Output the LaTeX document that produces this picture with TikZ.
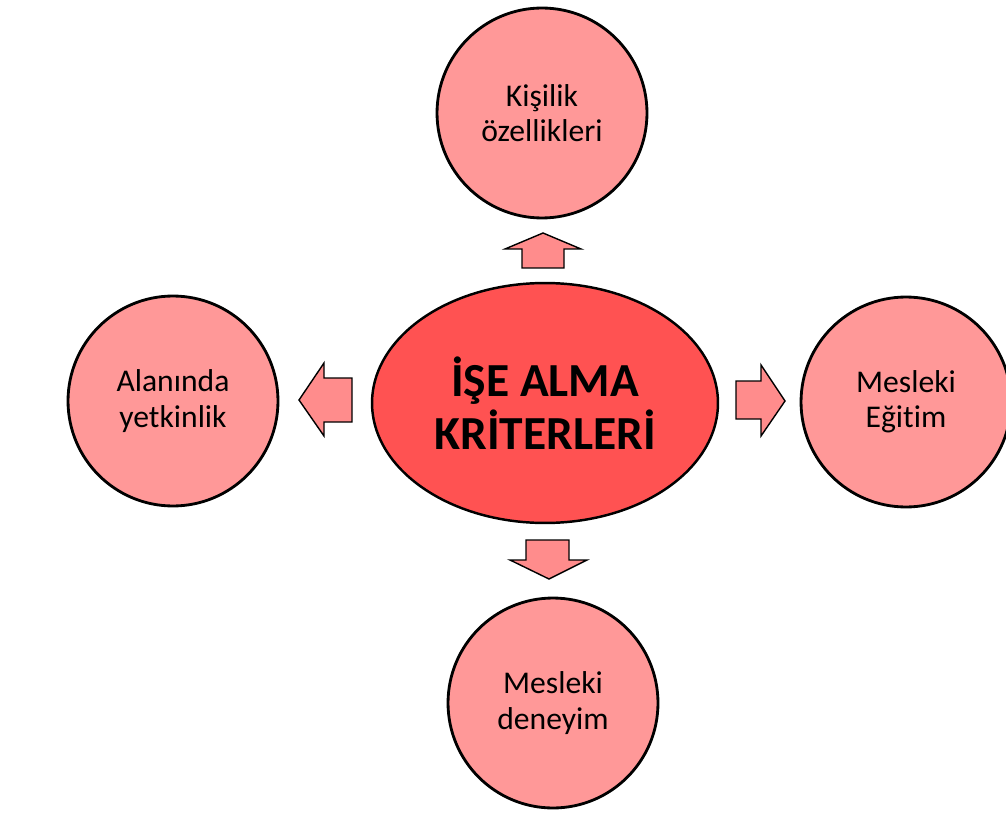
\documentclass[tikz,border=0pt]{standalone}
\usepackage{fontspec}
\setmainfont[Ligatures=NoCommon]{Carlito}
\usetikzlibrary{shapes.geometric}
\definecolor{daire}{RGB}{255,152,152}
\definecolor{merkez}{RGB}{255,82,82}
\definecolor{ok}{RGB}{255,140,140}

\begin{document}
\begin{tikzpicture}[x=0.02cm, y=-0.02cm,
    kutu/.style={circle, draw=black, line width=1.6pt, fill=daire, minimum size=4.2cm,
        inner sep=0pt, align=center, font=\fontsize{18}{20}\selectfont},
    blok/.style={draw=black, line width=0.8pt, fill=ok, line join=miter}]
    \useasboundingbox (0,0) rectangle (1006,817);

    \node[ellipse, draw=black, line width=1.4pt, fill=merkez, minimum width=6.92cm,
        minimum height=4.8cm, inner sep=0pt, align=center,
        font=\bfseries\fontsize{27}{30}\selectfont] (kriter) at (545,403) {İŞE ALMA\\KRİTERLERİ};

    \node[kutu] (kisilik) at (542,113) {Kişilik\\özellikleri};
    \node[kutu] (alan) at (173,401) {Alanında\\yetkinlik};
    \node[kutu] (egitim) at (906,402) {Mesleki\\Eğitim};
    \node[kutu] (deneyim) at (553,703) {Mesleki\\deneyim};

    % block arrows
    \draw[blok] (522,268) -- (564,268) -- (564,249) -- (581,249) -- (543,233)
        -- (505,249) -- (522,249) -- cycle;
    \draw[blok] (352,378) -- (324,378) -- (324,363) -- (299,400) -- (324,436)
        -- (324,422) -- (352,422) -- cycle;
    \draw[blok] (736,381) -- (761,381) -- (761,365) -- (785,401) -- (761,436)
        -- (761,419) -- (736,419) -- cycle;
    \draw[blok] (526,540) -- (569,540) -- (569,560) -- (587,560) -- (549,579)
        -- (510,560) -- (526,560) -- cycle;
\end{tikzpicture}
\end{document}
